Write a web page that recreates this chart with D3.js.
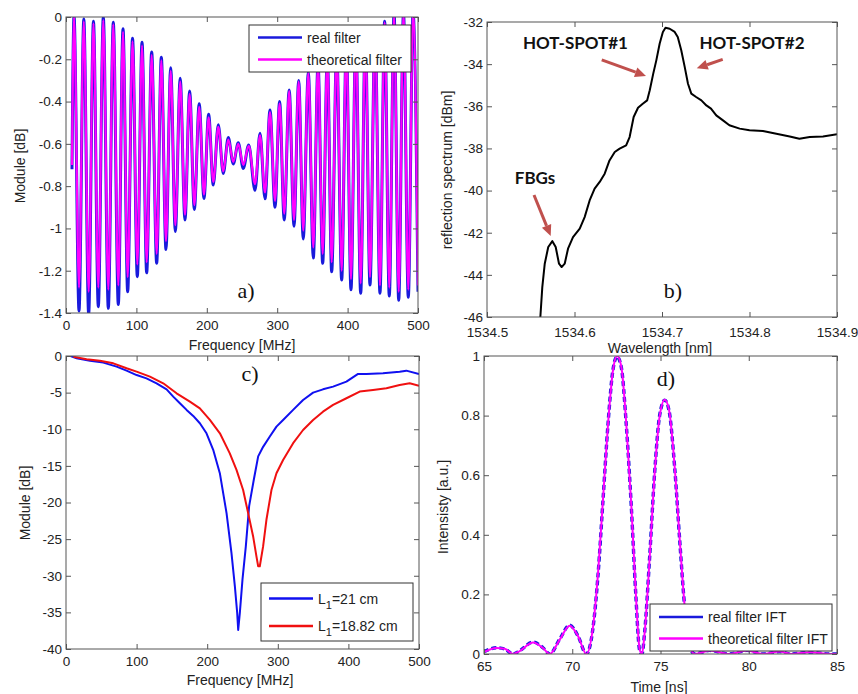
<!DOCTYPE html>
<html>
<head>
<meta charset="utf-8">
<script src="https://cdn.jsdelivr.net/npm/d3@7"></script>
<style>
  body { margin: 0; background: #fff; }
  text { font-family: "Liberation Sans", Arial, sans-serif; fill: #222; }
  .tick text { font-size: 13.5px; }
  .axis-label { font-size: 14px; }
  .legend text { font-size: 14px; }
  .panel-letter { font-family: "Liberation Serif", "Times New Roman", serif; font-size: 22px; fill: #111; }
  .note { font-family: Lato, "Open Sans", sans-serif; font-weight: bold; font-size: 17px; fill: #111; }
</style>
</head>
<body>
<div id="plot"></div>
<script>
// a) filter module, extrema (MHz / dB)
const aFreq = [8.5, 11.4, 18.5, 25.3, 32.2, 39, 45.9, 53, 60.1, 67.2, 74.3, 81, 87.6, 94.5, 101.3, 108, 114.6,
  121.7, 128.8, 135.4, 142, 148.7, 155.3, 162.2, 169, 175.6, 182.3, 189.2, 196, 202.6, 209.2, 216.3, 223.4,
  230.5, 237.6, 244.7, 251.8, 259.5, 268.5, 275.6, 282.7, 289.8, 296.9, 303.4, 310, 317, 323.9, 330.5, 337,
  344.2, 351.3, 358, 364.6, 371.2, 377.4, 384.5, 391.6, 398.2, 404.8, 411.7, 418.6, 425.2, 431.8, 439, 446,
  452.6, 459.2, 466, 472.6, 479.4, 486.2, 493, 500];
const aReal = [-0.72, 0.005, -1.39, -0.01, -1.405, -0.02, -1.37, 0.0, -1.378, -0.025, -1.36, -0.055, -1.30,
  -0.10, -1.228, -0.12, -1.21, -0.165, -1.165, -0.19, -1.10, -0.24, -1.015, -0.29, -0.96, -0.35, -0.91, -0.41,
  -0.858, -0.46, -0.795, -0.51, -0.74, -0.57, -0.695, -0.595, -0.716, -0.605, -0.82, -0.55, -0.86, -0.44,
  -0.90, -0.40, -0.96, -0.345, -0.99, -0.30, -1.05, -0.26, -1.14, -0.22, -1.165, -0.185, -1.205, -0.155,
  -1.244, -0.125, -1.29, -0.10, -1.307, -0.075, -1.268, -0.055, -1.307, -0.02, -1.32, 0.015, -1.34, 0.02,
  -1.326, 0.02, -1.30];
const aTheo = [-0.70, 0, -1.28, -0.02, -1.30, -0.03, -1.28, -0.015, -1.29, -0.035, -1.27, -0.07, -1.23,
  -0.115, -1.17, -0.135, -1.16, -0.18, -1.12, -0.205, -1.06, -0.255, -0.985, -0.305, -0.935, -0.365, -0.89,
  -0.425, -0.84, -0.475, -0.78, -0.52, -0.73, -0.58, -0.685, -0.60, -0.70, -0.61, -0.79, -0.56, -0.83, -0.45,
  -0.87, -0.41, -0.93, -0.35, -0.96, -0.305, -1.01, -0.265, -1.09, -0.225, -1.12, -0.19, -1.16, -0.16, -1.20,
  -0.13, -1.24, -0.105, -1.26, -0.08, -1.23, -0.06, -1.27, -0.025, -1.28, 0.01, -1.30, 0.02, -1.29, 0.02, -1.27];
const aXTicks = [0, 100, 200, 300, 400, 500];
const aYTicks = [0, -0.2, -0.4, -0.6, -0.8, -1, -1.2, -1.4];

// b) reflection spectrum (nm / dBm)
const bWave = [1534.5605, 1534.5632, 1534.566, 1534.570, 1534.5747, 1534.5785, 1534.5823, 1534.5853, 1534.5888,
  1534.5926, 1534.5983, 1534.606, 1534.6116, 1534.6173, 1534.623, 1534.6288, 1534.6345, 1534.640, 1534.646,
  1534.6516, 1534.659, 1534.663, 1534.6676, 1534.6726, 1534.678, 1534.683, 1534.686, 1534.690, 1534.6935,
  1534.6973, 1534.701, 1534.704, 1534.7088, 1534.7145, 1534.718, 1534.722, 1534.726, 1534.7297, 1534.7335,
  1534.739, 1534.745, 1534.7507, 1534.756, 1534.762, 1534.7697, 1534.777, 1534.7888, 1534.800, 1534.8154,
  1534.8307, 1534.846, 1534.857, 1534.8688, 1534.884, 1534.9];
const bPower = [-46.3, -44.58, -43.47, -42.68, -42.40, -42.68, -43.47, -43.63, -43.47, -42.76, -42.21, -41.81,
  -41.26, -40.47, -39.91, -39.59, -39.20, -38.57, -38.17, -38.01, -37.85, -37.46, -36.51, -36.07, -35.88,
  -35.72, -35.24, -34.45, -33.82, -33.03, -32.47, -32.27, -32.32, -32.47, -32.71, -33.34, -34.14, -34.93,
  -35.40, -35.56, -35.72, -35.96, -36.11, -36.43, -36.67, -36.9, -37.06, -37.14, -37.17, -37.30, -37.43,
  -37.54, -37.46, -37.43, -37.33];
const bXTicks = [1534.5, 1534.6, 1534.7, 1534.8, 1534.9];
const bYTicks = [-32, -34, -36, -38, -40, -42, -44, -46];
const bNoteText = ["HOT-SPOT#1", "HOT-SPOT#2", "FBGs"];
const bNoteAt = [[1534.6011, -33.0], [1534.8029, -33.0], [1534.5549, -39.4]];
const bArrowFrom = [[1534.6311, -33.80], [1534.7694, -33.77], [1534.5537, -40.21]];
const bArrowTo = [[1534.6817, -34.56], [1534.7397, -34.20], [1534.5728, -42.16]];

// c) module for two lengths (MHz / dB)
const cBlueF = [6.6, 15, 34, 52.8, 71.7, 85.8, 100, 114, 128.3, 142.5, 151.9, 161.3, 170.8, 180.2, 189.6, 199,
  208.5, 217.9, 227.4, 234.4, 239.2, 242.5, 243.9, 246.2, 250, 254.7, 259.4, 266, 272.2, 279.2, 288.7, 298.1,
  307.5, 321.7, 335.8, 350, 364, 378.3, 397.2, 413.7, 425.5, 449, 472.6, 482, 500];
const cBlueV = [0, -0.3, -0.64, -0.9, -1.45, -2.0, -2.6, -3.05, -3.73, -4.55, -5.55, -6.45, -7.36, -8.18, -9.18,
  -10.55, -12.8, -16.0, -21.45, -26.9, -31.45, -35.1, -37.4, -35.1, -30.5, -26.0, -20.5, -16.9, -13.7, -12.4,
  -11.0, -9.64, -8.73, -7.36, -6.0, -5.0, -4.55, -4.18, -3.5, -2.45, -2.45, -2.36, -2.14, -2.0, -2.45];
const cRedF = [10.4, 29.2, 48, 67, 85.8, 100, 118.9, 137.7, 156.6, 175.5, 189.6, 203.8, 218, 232, 241.5, 250.9,
  258, 265, 269.8, 272.2, 274.5, 279.2, 283.9, 291, 298.1, 307.5, 321.7, 335.8, 350, 364, 378.3, 397.2, 416,
  434.9, 453.8, 472.6, 486.8, 500];
const cRedV = [-0.1, -0.45, -0.64, -1.0, -1.68, -2.14, -2.82, -3.73, -5.09, -6.23, -7.14, -8.73, -10.55, -13.3,
  -15.55, -18.3, -21.45, -24.6, -27.4, -28.7, -28.7, -26.0, -22.36, -18.3, -16.0, -14.2, -11.9, -10.1, -8.73,
  -7.6, -6.68, -5.77, -4.86, -4.64, -4.41, -3.95, -3.73, -4.05];
const cYTicks = [0, -5, -10, -15, -20, -25, -30, -35, -40];

// d) inverse Fourier transform (ns / a.u.)
const dTime = [65, 65.7, 66.17, 66.64, 67.0, 67.78, 68.34, 68.72, 69.29, 69.85, 70.33, 70.8, 71.18, 71.46, 71.74,
  72.03, 72.31, 72.54, 72.78, 73.06, 73.35, 73.59, 73.82, 73.95, 74.1, 74.39, 74.67, 74.95, 75.24, 75.48, 75.8,
  76.09, 76.37, 76.65, 76.94, 77.8, 78.9, 79.9, 80.8, 81.75, 82.4, 83.45, 84.6, 85];
const dReal = [0.008, 0.021, 0.017, 0, 0.01, 0.04, 0.021, 0, 0.05, 0.097, 0.06, 0, 0.09, 0.265, 0.515, 0.775,
  0.955, 0.998, 0.962, 0.77, 0.49, 0.21, 0.012, 0, 0.072, 0.33, 0.61, 0.8, 0.852, 0.818, 0.628, 0.38, 0.158,
  0.025, 0, 0.012, 0, 0.012, 0, 0.008, 0, 0.006, 0, 0];
const dTheo = [0.006, 0.02, 0.018, 0, 0.009, 0.039, 0.02, 0, 0.048, 0.095, 0.06, 0, 0.093, 0.27, 0.517, 0.774,
  0.953, 1.0, 0.964, 0.774, 0.495, 0.216, 0.015, 0, 0.07, 0.327, 0.607, 0.797, 0.853, 0.82, 0.63, 0.383, 0.16,
  0.026, 0, 0.012, 0, 0.012, 0, 0.008, 0, 0.006, 0, 0];
const dXTicks = [65, 70, 75, 80, 85];
const dYTicks = [0, 0.2, 0.4, 0.6, 0.8, 1];

const svg = d3.select("div#plot").append("svg").attr("width", 858).attr("height", 694);
const fmt = (d) => String(d);

function makePanel(id, box, xDomain, yDomain) {
  const p = Object.assign({}, box);
  p.x = d3.scaleLinear().domain(xDomain).range([box.left, box.right]);
  p.y = d3.scaleLinear().domain(yDomain).range([box.bottom, box.top]);
  svg.append("clipPath").attr("id", "clip-" + id)
    .append("rect")
    .attr("x", box.left).attr("y", box.top)
    .attr("width", box.right - box.left).attr("height", box.bottom - box.top);
  p.plot = svg.append("g").attr("clip-path", "url(#clip-" + id + ")");
  return p;
}

function drawAxes(p, xTicks, yTicks, xPad) {
  const g = svg.append("g");
  g.append("g").attr("transform", "translate(0," + p.bottom + ")")
    .call(d3.axisBottom(p.x).tickValues(xTicks).tickSize(-5).tickPadding(xPad || 7).tickFormat(fmt));
  g.append("g").attr("transform", "translate(0," + p.top + ")")
    .call(d3.axisTop(p.x).tickValues(xTicks).tickSize(-5).tickFormat(""));
  g.append("g").attr("transform", "translate(" + p.left + ",0)")
    .call(d3.axisLeft(p.y).tickValues(yTicks).tickSize(-5).tickPadding(4).tickFormat(fmt));
  g.append("g").attr("transform", "translate(" + p.right + ",0)")
    .call(d3.axisRight(p.y).tickValues(yTicks).tickSize(-5).tickFormat(""));
  g.selectAll(".domain").remove();
  g.selectAll(".tick line").attr("stroke", "#555");
  g.append("rect")
    .attr("x", p.left).attr("y", p.top)
    .attr("width", p.right - p.left).attr("height", p.bottom - p.top)
    .attr("fill", "none").attr("stroke", "#555");
}

function axisLabels(xText, xPos, yText, yPos) {
  svg.append("text").attr("class", "axis-label")
    .attr("x", xPos[0]).attr("y", xPos[1]).attr("text-anchor", "middle").text(xText);
  svg.append("text").attr("class", "axis-label")
    .attr("transform", "translate(" + yPos[0] + "," + yPos[1] + ") rotate(-90)")
    .attr("text-anchor", "middle").attr("dy", "0.35em").text(yText);
}

function drawSeries(p, xs, ys, color, width, curve, dash) {
  const line = d3.line().x((d) => p.x(d[0])).y((d) => p.y(d[1])).curve(curve || d3.curveLinear);
  p.plot.append("path")
    .datum(xs.map((v, i) => [v, ys[i]]))
    .attr("d", line)
    .attr("fill", "none")
    .attr("stroke", color)
    .attr("stroke-width", width)
    .attr("stroke-linejoin", "round")
    .attr("stroke-dasharray", dash || null);
}

function legend(box, items) {
  const g = svg.append("g").attr("class", "legend");
  g.append("rect").attr("x", box[0]).attr("y", box[1]).attr("width", box[2]).attr("height", box[3])
    .attr("fill", "#fff").attr("stroke", "#333");
  items.forEach((it) => {
    g.append("line").attr("x1", it.x).attr("x2", it.x + 44).attr("y1", it.y).attr("y2", it.y)
      .attr("stroke", it.color).attr("stroke-width", 2.5);
    const t = g.append("text").attr("x", it.x + 49).attr("y", it.y + 5);
    if (it.sub) {
      t.append("tspan").text("L");
      t.append("tspan").attr("dy", 5).style("font-size", "11px").text("1");
      t.append("tspan").attr("dy", -5).text(it.label);
    } else {
      t.text(it.label);
    }
  });
}

function letter(text, x, y) {
  svg.append("text").attr("class", "panel-letter").attr("x", x).attr("y", y)
    .attr("text-anchor", "middle").text(text);
}

// ---- panel a
const pa = makePanel("a", { left: 66, right: 418, top: 17, bottom: 313 }, [0, 500], [-1.4, 0]);
drawSeries(pa, aFreq, aReal, "#1a1adc", 3, d3.curveMonotoneX);
drawSeries(pa, aFreq, aTheo, "#ff00ff", 2.2, d3.curveMonotoneX);
drawAxes(pa, aXTicks, aYTicks);
axisLabels("Frequency [MHz]", [242, 350], "Module [dB]", [20, 166]);
legend([249, 25, 162, 47], [
  { x: 258, y: 37.5, color: "#1a1adc", label: "real filter" },
  { x: 258, y: 59.5, color: "#ff00ff", label: "theoretical filter" },
]);
letter("a)", 246, 298);

// ---- panel b
const pb = makePanel("b", { left: 487, right: 837, top: 22, bottom: 317 }, [1534.5, 1534.9], [-46, -32]);
drawSeries(pb, bWave, bPower, "#000", 2);
drawAxes(pb, bXTicks, bYTicks, 10);
axisLabels("Wavelength [nm]", [660, 353], "reflection spectrum [dBm]", [447, 170]);
const arrowColor = "#c0504d";
bArrowFrom.forEach((from, i) => {
  const x1 = pb.x(from[0]), y1 = pb.y(from[1]);
  const x2 = pb.x(bArrowTo[i][0]), y2 = pb.y(bArrowTo[i][1]);
  const ang = Math.atan2(y2 - y1, x2 - x1);
  const hl = 11, hw = 5;
  const bx = x2 - hl * Math.cos(ang), by = y2 - hl * Math.sin(ang);
  svg.append("line").attr("x1", x1).attr("y1", y1).attr("x2", bx).attr("y2", by)
    .attr("stroke", arrowColor).attr("stroke-width", 3);
  svg.append("path")
    .attr("d", "M" + x2 + "," + y2 +
      "L" + (bx + hw * Math.sin(ang)) + "," + (by - hw * Math.cos(ang)) +
      "L" + (bx - hw * Math.sin(ang)) + "," + (by + hw * Math.cos(ang)) + "Z")
    .attr("fill", arrowColor);
});
bNoteText.forEach((t, i) => {
  svg.append("text").attr("class", "note")
    .attr("x", pb.x(bNoteAt[i][0])).attr("y", pb.y(bNoteAt[i][1]))
    .attr("text-anchor", "middle").attr("dy", "0.35em").text(t);
});
letter("b)", 673, 298);

// ---- panel c
const pc = makePanel("c", { left: 66, right: 419, top: 356, bottom: 649 }, [0, 500], [-40, 0]);
drawSeries(pc, cBlueF, cBlueV, "#1010f0", 2);
drawSeries(pc, cRedF, cRedV, "#f01010", 2);
drawAxes(pc, aXTicks, cYTicks);
axisLabels("Frequency [MHz]", [240, 685], "Module [dB]", [25, 503]);
legend([261, 583, 152, 58], [
  { x: 269, y: 598.5, color: "#1010f0", label: "=21 cm", sub: true },
  { x: 269, y: 626, color: "#f01010", label: "=18.82 cm", sub: true },
]);
letter("c)", 250, 381);

// ---- panel d
const pd = makePanel("d", { left: 484, right: 837, top: 356, bottom: 654 }, [65, 85], [0, 1]);
drawSeries(pd, dTime, dReal, "#1a1adc", 3.4, d3.curveMonotoneX, "5 3");
drawSeries(pd, dTime, dTheo, "#ff00ff", 2, d3.curveMonotoneX);
drawAxes(pd, dXTicks, dYTicks);
axisLabels("Time [ns]", [659, 692], "Intensisty [a.u.]", [443, 507]);
legend([650, 604, 182, 47], [
  { x: 659, y: 617, color: "#1a1adc", label: "real filter IFT" },
  { x: 659, y: 638.5, color: "#ff00ff", label: "theoretical filter IFT" },
]);
letter("d)", 666, 386);
</script>
</body>
</html>
